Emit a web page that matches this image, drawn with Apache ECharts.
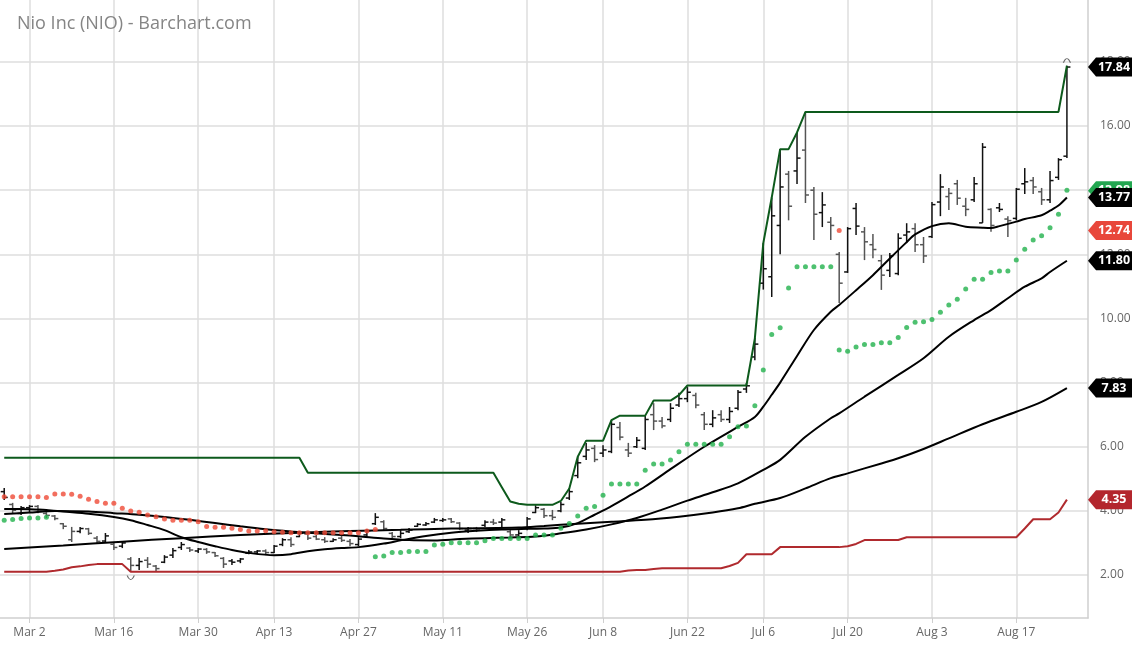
<!DOCTYPE html>
<html>
<head>
<meta charset="utf-8">
<title>Nio Inc (NIO) - Barchart.com</title>
<script src="https://cdn.jsdelivr.net/npm/echarts@6/dist/echarts.min.js"></script>
<style>
html,body{margin:0;padding:0;background:#fff;}
#chart{width:1134px;height:645px;}
</style>
</head>
<body>
<div id="chart"></div>
<script>
// trading days shown on the chart
var dates = ['Feb 26','Feb 27','Feb 28',
  'Mar 2','Mar 3','Mar 4','Mar 5','Mar 6','Mar 9','Mar 10','Mar 11','Mar 12','Mar 13',
  'Mar 16','Mar 17','Mar 18','Mar 19','Mar 20','Mar 23','Mar 24','Mar 25','Mar 26','Mar 27',
  'Mar 30','Mar 31','Apr 1','Apr 2','Apr 3','Apr 6','Apr 7','Apr 8','Apr 9',
  'Apr 13','Apr 14','Apr 15','Apr 16','Apr 17','Apr 20','Apr 21','Apr 22','Apr 23','Apr 24',
  'Apr 27','Apr 28','Apr 29','Apr 30','May 1','May 4','May 5','May 6','May 7','May 8',
  'May 11','May 12','May 13','May 14','May 15','May 18','May 19','May 20','May 21','May 22',
  'May 26','May 27','May 28','May 29','Jun 1','Jun 2','Jun 3','Jun 4','Jun 5',
  'Jun 8','Jun 9','Jun 10','Jun 11','Jun 12','Jun 15','Jun 16','Jun 17','Jun 18','Jun 19',
  'Jun 22','Jun 23','Jun 24','Jun 25','Jun 26','Jun 29','Jun 30','Jul 1','Jul 2',
  'Jul 6','Jul 7','Jul 8','Jul 9','Jul 10','Jul 13','Jul 14','Jul 15','Jul 16','Jul 17',
  'Jul 20','Jul 21','Jul 22','Jul 23','Jul 24','Jul 27','Jul 28','Jul 29','Jul 30','Jul 31',
  'Aug 3','Aug 4','Aug 5','Aug 6','Aug 7','Aug 10','Aug 11','Aug 12','Aug 13','Aug 14',
  'Aug 17','Aug 18','Aug 19','Aug 20','Aug 21','Aug 24','Aug 25'];
var tickDates = ['Mar 2','Mar 16','Mar 30','Apr 13','Apr 27','May 11','May 26','Jun 8','Jun 22','Jul 6','Jul 20','Aug 3','Aug 17'];
var priceTicks = [2, 4, 6, 8, 10, 12, 14, 16, 18];

var open = [4.60,4.20,3.92,4.10,4.14,3.92,3.84,3.60,3.10,3.36,3.44,3.15,3.06,2.96,2.90,2.50,2.30,2.46,2.28,2.40,
  2.62,2.86,2.84,2.75,2.80,2.70,2.52,2.44,2.44,2.68,2.72,2.75,2.70,2.95,3.10,3.20,3.28,3.20,3.10,3.05,
  3.15,3.05,2.95,3.25,3.60,3.66,3.30,3.20,3.35,3.52,3.56,3.65,3.70,3.75,3.62,3.40,3.45,3.55,3.65,3.65,
  3.35,3.25,3.45,3.95,4.05,3.85,4.00,4.40,5.10,5.70,5.95,5.80,5.85,6.60,5.90,6.00,5.95,7.00,6.80,6.85,
  7.30,7.50,7.60,7.00,6.70,7.00,6.85,7.20,7.80,8.80,11.10,11.30,12.90,14.50,14.60,15.25,14.00,13.30,13.00,12.00,
  11.45,13.43,12.70,12.30,11.80,11.50,11.40,12.60,12.80,12.30,12.55,13.63,13.80,14.20,13.50,13.70,12.98,13.40,13.45,13.10,
  13.12,14.20,14.30,13.95,13.70,14.40,15.06];
var high = [4.71,4.25,4.15,4.18,4.18,3.96,3.87,3.62,3.50,3.50,3.47,3.22,3.31,3.03,3.06,2.56,2.53,2.56,2.31,2.62,
  2.84,3.03,2.87,2.84,2.84,2.72,2.56,2.50,2.53,2.78,2.78,2.80,2.94,3.15,3.18,3.37,3.31,3.25,3.18,3.15,
  3.25,3.12,3.18,3.43,3.93,3.71,3.34,3.40,3.47,3.62,3.65,3.78,3.78,3.78,3.65,3.50,3.50,3.71,3.75,3.78,
  3.40,3.40,3.81,4.18,4.09,4.03,4.28,4.71,5.68,6.12,6.05,6.05,6.83,6.77,6.12,6.30,6.99,7.36,6.93,7.36,
  7.68,7.86,7.68,7.08,7.14,7.14,7.24,7.77,7.99,9.39,12.35,13.77,15.28,14.60,15.80,16.44,14.10,13.94,13.16,12.07,
  12.85,13.60,12.85,12.63,11.98,12.04,12.66,12.97,12.97,12.54,13.63,14.50,14.07,14.32,13.76,14.41,15.47,13.44,13.60,13.19,
  14.07,14.69,14.41,14.07,14.60,15.00,17.88];
var low = [4.34,3.93,3.87,3.93,3.93,3.78,3.71,3.43,3.03,3.30,3.25,3.00,3.00,2.78,2.84,2.11,2.16,2.22,2.12,2.37,
  2.53,2.78,2.72,2.69,2.66,2.56,2.22,2.31,2.37,2.65,2.65,2.62,2.69,2.90,2.87,3.18,3.09,3.09,3.00,3.03,
  3.03,2.90,2.90,3.18,3.56,3.40,3.15,3.15,3.31,3.50,3.53,3.62,3.65,3.62,3.40,3.31,3.34,3.50,3.56,3.47,
  3.18,3.15,3.40,3.93,3.78,3.71,3.96,4.34,5.02,5.59,5.52,5.68,5.80,6.20,5.68,5.96,5.90,6.52,6.58,6.77,
  7.24,7.39,7.20,6.52,6.61,6.77,6.74,7.14,7.68,8.70,10.90,10.67,12.00,13.06,14.19,13.60,12.45,12.85,12.45,10.48,
  11.42,12.60,11.82,11.88,10.89,11.29,11.35,12.35,12.07,11.73,12.51,13.19,13.38,13.54,13.19,13.63,12.98,12.70,13.32,12.54,
  13.06,13.88,13.88,13.54,13.60,14.32,15.00];
var close = [4.42,4.02,4.10,4.14,4.04,3.86,3.76,3.52,3.36,3.45,3.30,3.05,3.22,2.86,3.00,2.30,2.42,2.34,2.20,2.56,
  2.76,2.95,2.78,2.81,2.72,2.60,2.34,2.40,2.50,2.72,2.75,2.70,2.90,3.10,2.95,3.30,3.15,3.12,3.05,3.10,
  3.08,2.98,3.12,3.38,3.80,3.45,3.20,3.30,3.40,3.58,3.60,3.72,3.72,3.66,3.45,3.45,3.40,3.65,3.62,3.72,
  3.25,3.30,3.75,4.10,3.85,3.80,4.20,4.60,5.50,5.90,5.60,5.90,6.70,6.30,5.80,6.20,6.85,6.80,6.65,7.20,
  7.50,7.70,7.30,6.70,6.90,6.85,7.10,7.70,7.90,9.20,11.55,13.20,14.10,13.50,15.00,13.85,13.25,13.54,12.90,11.10,
  12.80,12.88,12.39,12.15,11.35,11.95,12.50,12.70,12.30,11.95,13.55,14.10,13.90,13.75,13.40,14.20,15.34,12.90,13.40,13.05,
  14.03,14.26,14.10,13.70,14.30,14.95,17.84];

// moving averages as [day index, value]
var ma20 = [[0,4.06],[3,4.05],[5,4.03],[7,3.98],[10,3.91],[13,3.81],[15,3.71],[17,3.56],[19,3.40],[21,3.18],
  [23,3.03],[25,2.90],[27,2.78],[29,2.69],[32,2.62],[34,2.65],[36,2.74],[38,2.80],[40,2.84],[42,2.87],
  [45,2.98],[47,3.08],[50,3.22],[53,3.32],[56,3.38],[59,3.42],[62,3.44],[64,3.45],[66,3.48],[68,3.62],
  [70,3.88],[72,4.15],[74,4.45],[76,4.76],[79,5.30],[83,6.00],[87,6.62],[89,6.93],[90,7.25],[91,7.62],
  [92,8.00],[94,8.83],[96,9.64],[98,10.21],[99,10.42],[101,10.88],[103,11.35],[105,11.87],[107,12.38],[108,12.62],
  [110,12.88],[112,12.97],[114,12.86],[116,12.83],[117,12.82],[118,12.88],[120,13.02],[121,13.10],[123,13.22],[124,13.36],
  [125,13.52],[126,13.77]];
var ma50 = [[0,3.90],[3,3.95],[6,4.00],[10,3.98],[13,3.93],[16,3.88],[19,3.81],[22,3.72],[25,3.62],[28,3.52],
  [31,3.43],[34,3.36],[37,3.30],[40,3.25],[42,3.21],[45,3.14],[48,3.09],[51,3.08],[54,3.12],[57,3.15],
  [60,3.17],[63,3.20],[66,3.30],[69,3.42],[72,3.58],[75,3.78],[78,4.04],[81,4.32],[84,4.58],[87,4.86],
  [90,5.28],[92,5.59],[95,6.31],[98,6.89],[99,7.04],[102,7.56],[106,8.24],[109,8.76],[112,9.43],[115,9.95],
  [117,10.26],[119,10.63],[121,10.99],[123,11.25],[124,11.45],[126,11.80]];
var ma100 = [[0,2.81],[7,2.92],[14,3.04],[21,3.15],[28,3.25],[35,3.32],[41,3.37],[47,3.41],[53,3.45],[61,3.48],
  [64,3.53],[68,3.60],[72,3.66],[76,3.72],[80,3.82],[84,3.95],[87,4.08],[89,4.22],[92,4.40],[95,4.70],
  [98,5.02],[100,5.17],[104,5.48],[106,5.64],[109,5.93],[112,6.26],[116,6.70],[120,7.09],[123,7.40],[126,7.83]];

// price channel, one value per day
var upperBand = [5.66,5.66,5.66,5.66,5.66,5.66,5.66,5.66,5.66,5.66,5.66,5.66,5.66,5.66,5.66,5.66,5.66,5.66,5.66,5.66,
  5.66,5.66,5.66,5.66,5.66,5.66,5.66,5.66,5.66,5.66,5.66,5.66,5.66,5.66,5.66,5.66,5.19,5.19,5.19,5.19,
  5.19,5.19,5.19,5.19,5.19,5.19,5.19,5.19,5.19,5.19,5.19,5.19,5.19,5.19,5.19,5.19,5.19,5.19,5.19,4.74,
  4.29,4.22,4.19,4.19,4.19,4.19,4.31,4.70,5.69,6.19,6.19,6.19,6.83,6.97,6.97,6.97,6.97,7.44,7.44,7.44,
  7.61,7.91,7.91,7.91,7.91,7.91,7.91,7.91,7.91,9.38,12.35,13.77,15.28,15.28,15.80,16.44,16.44,16.44,16.44,16.44,
  16.44,16.44,16.44,16.44,16.44,16.44,16.44,16.44,16.44,16.44,16.44,16.44,16.44,16.44,16.44,16.44,16.44,16.44,16.44,16.44,
  16.44,16.44,16.44,16.44,16.44,16.44,17.88];
var lowerBand = [2.10,2.10,2.10,2.10,2.10,2.10,2.13,2.17,2.24,2.27,2.31,2.34,2.34,2.34,2.34,2.10,2.10,2.10,2.10,2.10,
  2.10,2.10,2.10,2.10,2.10,2.10,2.10,2.10,2.10,2.10,2.10,2.10,2.10,2.10,2.10,2.10,2.10,2.10,2.10,2.10,
  2.10,2.10,2.10,2.10,2.10,2.10,2.10,2.10,2.10,2.10,2.10,2.10,2.10,2.10,2.10,2.10,2.10,2.10,2.10,2.10,
  2.10,2.10,2.10,2.10,2.10,2.10,2.10,2.10,2.10,2.10,2.10,2.10,2.10,2.10,2.14,2.16,2.16,2.19,2.21,2.21,
  2.21,2.21,2.21,2.21,2.21,2.21,2.28,2.38,2.65,2.65,2.65,2.65,2.87,2.87,2.87,2.87,2.87,2.87,2.87,2.87,
  2.90,2.97,3.09,3.09,3.09,3.09,3.09,3.18,3.18,3.18,3.18,3.18,3.18,3.18,3.18,3.18,3.18,3.18,3.18,3.18,
  3.18,3.45,3.74,3.74,3.74,3.95,4.35];

// parabolic SAR dots as [day index, value]
var sarRed = [[0,4.44],[1,4.44],[2,4.44],[3,4.44],[4,4.44],[5,4.42],[6,4.53],[7,4.53],[8,4.52],[9,4.46],
  [10,4.36],[11,4.29],[12,4.24],[13,4.24],[14,4.08],[15,4.00],[16,3.96],[17,3.87],[18,3.82],[19,3.75],
  [20,3.71],[21,3.71],[22,3.71],[23,3.66],[24,3.51],[25,3.49],[26,3.49],[27,3.46],[28,3.42],[29,3.37],
  [30,3.37],[31,3.38],[32,3.35],[33,3.33],[34,3.32],[35,3.32],[36,3.32],[37,3.32],[38,3.32],[39,3.32],
  [40,3.32],[41,3.32],[42,3.32],[43,3.37],[44,3.42],[99,12.74]];
var sarGreen = [[0,3.71],[1,3.73],[2,3.76],[3,3.78],[4,3.78],[5,3.80],
  [44,2.57],[45,2.59],[46,2.70],[47,2.70],[48,2.73],[49,2.73],[50,2.73],[51,2.94],[52,2.96],[53,3.01],
  [54,3.01],[55,3.01],[56,3.01],[57,3.07],[58,3.14],[59,3.14],[60,3.14],[61,3.14],[62,3.14],[63,3.25],
  [64,3.25],[65,3.25],[66,3.46],[67,3.61],[68,3.84],[69,4.08],[70,4.14],[71,4.49],[72,4.84],[73,4.84],
  [74,4.84],[75,4.84],[76,5.27],[77,5.46],[78,5.46],[79,5.59],[80,5.84],[81,6.08],[82,6.08],[83,6.08],
  [84,6.08],[85,6.08],[86,6.31],[87,6.62],[88,6.65],[89,7.28],[90,8.39],[91,9.50],[92,9.71],[93,10.95],
  [94,11.61],[95,11.61],[96,11.61],[97,11.61],[98,11.61],[99,9.02],[100,8.98],[101,9.11],[102,9.19],[103,9.19],
  [104,9.24],[105,9.24],[106,9.41],[107,9.72],[108,9.88],[109,9.90],[110,9.97],[111,10.19],[112,10.42],[113,10.60],
  [114,10.92],[115,11.22],[116,11.22],[117,11.43],[118,11.48],[119,11.48],[120,11.82],[121,12.16],[122,12.45],[123,12.58],
  [124,12.83],[125,13.25],[126,14.00]];

// last-value tags on the price axis
var tagValues = [4.35, 7.83, 11.80, 12.74, 13.98, 13.77, 17.84];
var tagColors = ['#b3262d', '#000000', '#000000', '#e8473b', '#22a650', '#000000', '#000000'];

var chart = echarts.init(document.getElementById('chart'));

var ohlc = dates.map(function (d, i) {
  return [i, open[i], high[i], low[i], close[i]];
});
var isTick = function (idx, val) { return tickDates.indexOf(val) >= 0; };

function renderBar(params, api) {
  var i = api.value(0);
  var ph = api.coord([i, api.value(2)]);
  var pl = api.coord([i, api.value(3)]);
  var po = api.coord([i, api.value(1)]);
  var pc = api.coord([i, api.value(4)]);
  var up = i === 0 || api.value(4) >= close[i - 1];
  var col = up ? '#111' : '#555';
  var st = { stroke: col, lineWidth: 1.5 };
  return {
    type: 'group',
    children: [
      { type: 'line', shape: { x1: ph[0], y1: ph[1], x2: pl[0], y2: pl[1] }, style: st },
      { type: 'line', shape: { x1: po[0] - 3.5, y1: po[1], x2: po[0], y2: po[1] }, style: st },
      { type: 'line', shape: { x1: pc[0], y1: pc[1], x2: pc[0] + 3.5, y2: pc[1] }, style: st }
    ]
  };
}

var option = {
  animation: false,
  backgroundColor: '#fff',
  title: {
    text: 'Nio Inc (NIO) - Barchart.com',
    left: 12, top: 10,
    textStyle: { color: '#858585', fontSize: 18, fontWeight: 'normal', fontFamily: 'Open Sans' }
  },
  grid: { left: -1, right: 46, top: 0, bottom: 27 },
  xAxis: {
    type: 'category',
    data: dates.concat(['', '']),
    boundaryGap: true,
    axisLine: { show: true, lineStyle: { color: '#cfcfcf', width: 1.5 } },
    axisTick: { show: true, interval: isTick, alignWithLabel: true, length: 5, lineStyle: { color: '#cfcfcf' } },
    axisLabel: { interval: isTick, color: '#666', fontSize: 12, fontFamily: 'Open Sans', margin: 9 },
    splitLine: { show: true, interval: isTick, alignWithLabel: true, lineStyle: { color: '#dedede', width: 1.5 } }
  },
  yAxis: {
    type: 'value',
    position: 'right',
    min: 0.66, max: 19.93,
    axisLine: { show: true, lineStyle: { color: '#cfcfcf', width: 1.5 } },
    axisTick: { show: false, customValues: priceTicks },
    axisLabel: {
      customValues: priceTicks, color: '#666', fontSize: 12, fontFamily: 'Open Sans', margin: 12,
      formatter: function (v) { return v.toFixed(2); }
    },
    splitLine: { show: true, lineStyle: { color: '#dedede', width: 1.5 } }
  },
  series: [
    { name: 'Price', type: 'custom', renderItem: renderBar, encode: { x: 0, y: [1, 2, 3, 4] }, data: ohlc, z: 2 },
    { name: 'Lower', type: 'line', data: lowerBand, symbol: 'none', lineStyle: { color: '#b02a2e', width: 2 }, z: 3 },
    { name: 'Upper', type: 'line', data: upperBand, symbol: 'none', lineStyle: { color: '#0d5a1c', width: 2 }, z: 3 },
    { name: 'MA100', type: 'line', data: ma100, symbol: 'none', smooth: 0.3, lineStyle: { color: '#000', width: 2 }, z: 4 },
    { name: 'MA50', type: 'line', data: ma50, symbol: 'none', smooth: 0.3, lineStyle: { color: '#000', width: 2 }, z: 4 },
    { name: 'MA20', type: 'line', data: ma20, symbol: 'none', smooth: 0.3, lineStyle: { color: '#000', width: 2 }, z: 4 },
    { name: 'SAR up', type: 'scatter', data: sarGreen, symbolSize: 5, itemStyle: { color: '#22b24c' }, z: 5 },
    { name: 'SAR down', type: 'scatter', data: sarRed, symbolSize: 5, itemStyle: { color: '#ef4a36' }, z: 5 },
    { name: 'Low mark', type: 'scatter', data: [[15, low[15]]], symbol: 'path://M0,0 Q5,9 10,0',
      symbolSize: [7, 4], symbolOffset: [0, 6],
      itemStyle: { color: 'rgba(0,0,0,0)', borderColor: '#444', borderWidth: 1 }, z: 5 },
    { name: 'High mark', type: 'scatter', data: [[126, high[126]]], symbol: 'path://M0,9 Q5,0 10,9',
      symbolSize: [7, 4], symbolOffset: [0, -5],
      itemStyle: { color: 'rgba(0,0,0,0)', borderColor: '#444', borderWidth: 1 }, z: 5 }
  ]
};
chart.setOption(option);

var tags = [];
tagValues.forEach(function (v, k) {
  var y = chart.convertToPixel({ yAxisIndex: 0 }, v);
  tags.push({
    type: 'polygon', x: 1088, y: y, z: 100 + k * 2,
    shape: { points: [[0, 0], [8, -9.5], [44, -9.5], [44, 9.5], [8, 9.5]] },
    style: { fill: tagColors[k] }
  });
  tags.push({
    type: 'text', x: 1114, y: y, z: 101 + k * 2,
    style: { text: v.toFixed(2), fill: '#fff', font: 'bold 12.5px "Open Sans"', align: 'center', verticalAlign: 'middle' }
  });
});
chart.setOption({ graphic: tags });
</script>
</body>
</html>
